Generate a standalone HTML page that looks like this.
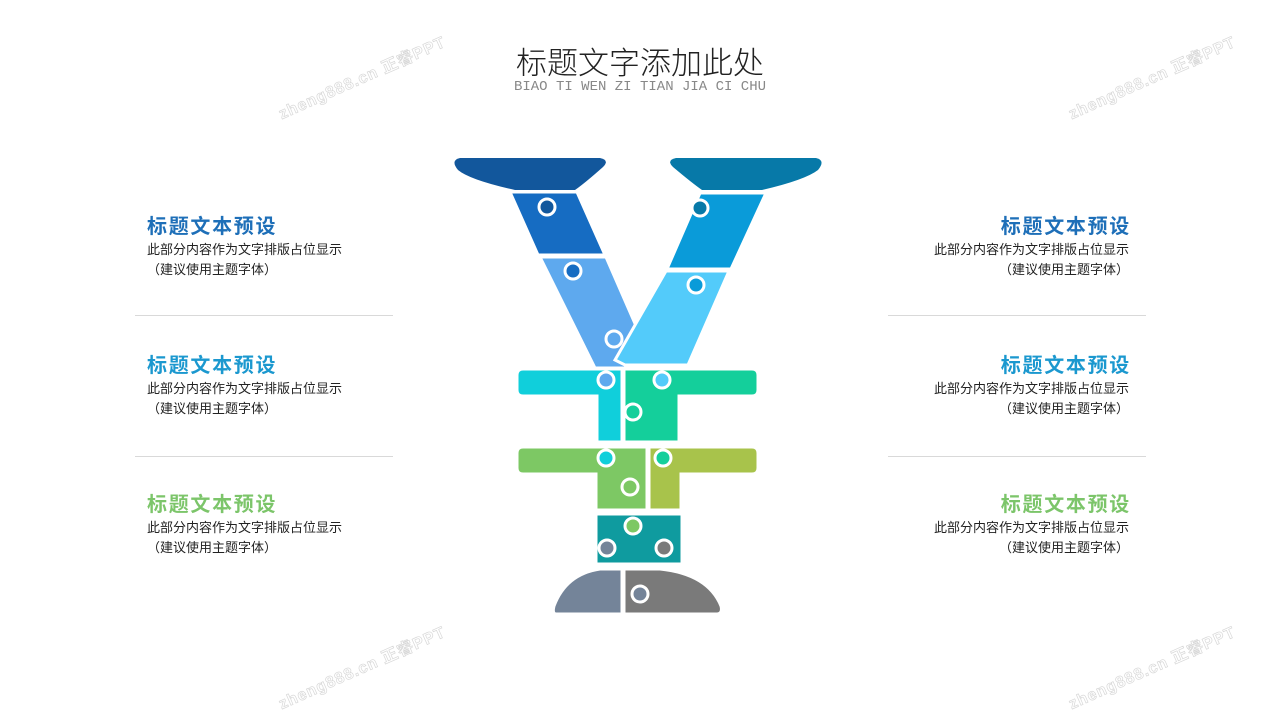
<!DOCTYPE html>
<html><head><meta charset="utf-8">
<style>
html,body{margin:0;padding:0;}
body{width:1280px;height:720px;background:#fff;position:relative;overflow:hidden;font-family:"Liberation Sans","Noto Sans CJK SC",sans-serif;}
.t{position:absolute;}
.h{font-size:20px;font-weight:bold;letter-spacing:1.7px;}
.p{font-size:13px;color:#222;line-height:20px;}
.line{position:absolute;height:1px;background:#d9d9d9;width:258px;}
.wm{position:absolute;font-size:16px;font-weight:bold;color:transparent;-webkit-text-stroke:0.7px #d8d8d8;transform:rotate(-24deg);transform-origin:left top;white-space:nowrap;letter-spacing:1px;}
</style></head><body>
<div class="t" style="left:0;width:1280px;top:38px;text-align:center;font-size:31px;color:#222;font-weight:300;">标题文字添加此处</div>
<div class="t" style="left:0;width:1280px;top:79px;text-align:center;font-size:14px;color:#888;font-family:'Liberation Mono',monospace;">BIAO TI WEN ZI TIAN JIA CI CHU</div>

<div class="wm" style="left:274px;top:102px;">zheng888.cn 正睿PPT</div>
<div class="wm" style="left:1064px;top:102px;">zheng888.cn 正睿PPT</div>
<div class="wm" style="left:274px;top:692px;">zheng888.cn 正睿PPT</div>
<div class="wm" style="left:1064px;top:692px;">zheng888.cn 正睿PPT</div>

<div class="t h" style="left:147px;top:210px;color:#1e6fb8;">标题文本预设</div>
<div class="t p" style="left:147px;top:240px;">此部分内容作为文字排版占位显示<br>（建议使用主题字体）</div>
<div class="line" style="left:135px;top:315px;"></div>
<div class="t h" style="left:147px;top:349px;color:#1b98cf;">标题文本预设</div>
<div class="t p" style="left:147px;top:379px;">此部分内容作为文字排版占位显示<br>（建议使用主题字体）</div>
<div class="line" style="left:135px;top:456px;"></div>
<div class="t h" style="left:147px;top:488px;color:#7cc56a;">标题文本预设</div>
<div class="t p" style="left:147px;top:518px;">此部分内容作为文字排版占位显示<br>（建议使用主题字体）</div>

<div class="t h" style="right:149px;top:210px;color:#1e6fb8;text-align:right;">标题文本预设</div>
<div class="t p" style="right:151px;top:240px;text-align:right;">此部分内容作为文字排版占位显示<br>（建议使用主题字体）</div>
<div class="line" style="left:888px;top:315px;"></div>
<div class="t h" style="right:149px;top:349px;color:#1b98cf;text-align:right;">标题文本预设</div>
<div class="t p" style="right:151px;top:379px;text-align:right;">此部分内容作为文字排版占位显示<br>（建议使用主题字体）</div>
<div class="line" style="left:888px;top:456px;"></div>
<div class="t h" style="right:149px;top:488px;color:#7cc56a;text-align:right;">标题文本预设</div>
<div class="t p" style="right:151px;top:518px;text-align:right;">此部分内容作为文字排版占位显示<br>（建议使用主题字体）</div>

<svg class="t" style="left:0;top:0" width="1280" height="720" viewBox="0 0 1280 720">
<g stroke="#fff" stroke-width="3">
<path d="M460 158 H600 Q610 160 603 167 Q585 183 575 190 H515 Q470 180 458 170 Q450 160 460 158Z" fill="#12579c" stroke="none"/>
<path d="M676 158 H816 Q826 160 818 170 Q805 180 762 190 H702 Q692 183 673 167 Q666 160 676 158Z" fill="#0779a8" stroke="none"/>
<polygon points="510,192 577,192 605,255 538,255" fill="#166cc2"/>
<polygon points="540,257 606,257 640,335 625,368 595,368" fill="#5ea9ee"/>
<polygon points="700,193 766,193 731,269 667,269" fill="#0a9bd9"/>
<polygon points="666,271 729,271 688,365 625,365 615,360" fill="#53cbfa"/>
<path d="M523 369 H622 V442 H597 V396 H523 Q517 396 517 390 V375 Q517 369 523 369Z" fill="#10cfdb"/>
<path d="M624 369 H752 Q758 369 758 375 V390 Q758 396 752 396 H679 V442 H624Z" fill="#14cf9b"/>
<path d="M523 447 H647 V510 H596 V474 H523 Q517 474 517 468 V453 Q517 447 523 447Z" fill="#7dc864"/>
<path d="M649 447 H752 Q758 447 758 453 V468 Q758 474 752 474 H681 V510 H649Z" fill="#a8c34b"/>
<rect x="596" y="514" width="86" height="50" fill="#0f9b9f"/>
<path d="M622 569 V614 H556 Q552 614 554 606 Q566 574 600 569Z" fill="#748499"/>
<path d="M624 569 H660 Q708 574 721 606 Q723 614 716 614 H624Z" fill="#7a7a7a"/>
</g>
<g stroke="#fff" stroke-width="3">
<circle cx="547" cy="207" r="8" fill="#12579c"/>
<circle cx="700" cy="208" r="8" fill="#0779a8"/>
<circle cx="573" cy="271" r="8" fill="#166cc2"/>
<circle cx="696" cy="285" r="8" fill="#0a9bd9"/>
<circle cx="614" cy="339" r="8" fill="#5ea9ee"/>
<circle cx="606" cy="380" r="8" fill="#5ea9ee"/>
<circle cx="662" cy="380" r="8" fill="#53cbfa"/>
<circle cx="633" cy="412" r="8" fill="#14cf9b"/>
<circle cx="606" cy="458" r="8" fill="#10cfdb"/>
<circle cx="663" cy="458" r="8" fill="#14cf9b"/>
<circle cx="630" cy="487" r="8" fill="#7dc864"/>
<circle cx="633" cy="526" r="8" fill="#7dc864"/>
<circle cx="607" cy="548" r="8" fill="#748499"/>
<circle cx="664" cy="548" r="8" fill="#7a7a7a"/>
<circle cx="640" cy="594" r="8" fill="#748499"/>
</g>
</svg>
</body></html>
